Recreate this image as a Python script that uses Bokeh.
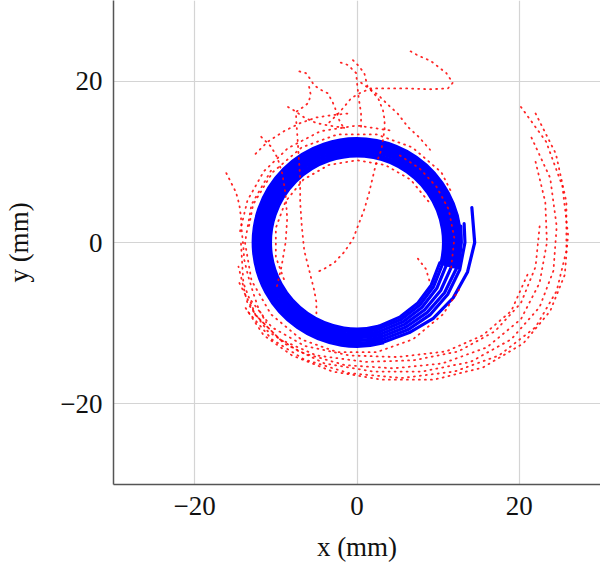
import numpy as np
from bokeh.plotting import figure
from bokeh.models import Range1d, FixedTicker
from bokeh.embed import file_html
from bokeh.resources import INLINE

# ---------------- data (mm) ----------------
# blue: 7 measured loops. Each loop runs anticlockwise at an almost constant
# radius about the origin, then spirals outward into a spike on the right.
blue_loop_radius = [12.75, 12.4, 12.05, 11.7, 11.35, 11.0, 10.7]
blue_loop_start_deg = [-15, -15, -15, -15, -15, -15, -15]
blue_loop_end_deg = [285, 285, 285, 285, 285, 285, 285]

blue_tail_a_x = [3.30, 6.45, 9.40, 11.86, 13.62, 14.5, 14.15]
blue_tail_a_y = [-12.32, -11.17, -9.40, -6.85, -3.65, 0.0, 4.33]
blue_tail_b_x = [3.21, 6.25, 8.98, 11.17, 12.65, 13.3, 13.2]
blue_tail_b_y = [-11.98, -10.83, -8.98, -6.45, -3.39, 0.0, 2.33]
blue_tail_c_x = [3.12, 6.05, 8.66, 10.78, 12.22, 12.85, 12.79]
blue_tail_c_y = [-11.64, -10.48, -8.66, -6.23, -3.28, 0.0, 2.03]
blue_tail_d_x = [3.03, 5.86, 8.34, 10.31, 11.59, 12.1, 12.13]
blue_tail_d_y = [-11.30, -10.15, -8.34, -5.95, -3.11, 0.0, 1.28]
blue_tail_e_x = [2.94, 5.68, 8.02, 9.83, 10.96, 11.35, 11.34]
blue_tail_e_y = [-10.96, -9.83, -8.02, -5.68, -2.94, 0.0, 0.40]
blue_tail_f_x = [2.85, 5.49, 7.74, 9.44, 10.48, 10.75]
blue_tail_f_y = [-10.63, -9.51, -7.74, -5.45, -2.81, -1.13]
blue_tail_g_x = [2.77, 5.33, 7.50, 9.14, 10.19]
blue_tail_g_y = [-10.34, -9.22, -7.50, -5.28, -2.54]

# red: dotted reference trajectories
red_outer_1_x = [20.2, 23.3, 25.3, 26.0, 25.6, 23.8, 20.5, 15.5, 9.5, 3.0, -3.0, -8.0, -11.5, -13.8]
red_outer_1_y = [16.8, 12.5, 7.0, 1.0, -4.0, -8.5, -12.5, -15.5, -17.0, -17.0, -16.0, -14.0, -11.5, -8.0]
red_outer_2_x = [22.0, 24.5, 25.8, 25.8, 24.6, 22.0, 17.5, 12.0, 5.5, -1.0, -6.5, -10.5, -13.5]
red_outer_2_y = [16.0, 11.0, 5.0, -1.0, -6.0, -10.5, -14.0, -16.0, -16.8, -16.2, -14.5, -12.0, -8.5]
red_outer_3_x = [21.5, 23.8, 24.6, 24.2, 22.5, 19.0, 14.0, 8.0, 2.0, -4.0, -9.0, -12.5, -14.5]
red_outer_3_y = [13.0, 8.0, 2.0, -3.5, -8.0, -12.0, -14.8, -16.0, -16.0, -15.0, -12.5, -9.0, -5.0]
red_outer_4_x = [22.0, 23.2, 23.4, 22.5, 20.2, 16.0, 10.5, 4.5, -1.5, -7.0, -11.0, -13.5, -14.6]
red_outer_4_y = [10.0, 5.0, 0.0, -5.0, -9.5, -13.0, -15.0, -15.6, -15.2, -13.6, -11.0, -7.5, -3.0]
red_outer_5_x = [22.5, 22.0, 20.2, 17.0, 12.5, 7.0, 1.0, -5.0, -9.5, -12.5, -14.0, -14.3]
red_outer_5_y = [2.0, -3.0, -7.5, -11.0, -13.5, -14.6, -14.8, -14.0, -12.0, -9.0, -5.0, 0.0]
red_outer_6_x = [21.0, 19.0, 15.5, 11.0, 5.0, -1.0, -6.5, -10.5, -13.2]
red_outer_6_y = [-4.0, -8.5, -11.5, -13.5, -14.2, -14.0, -12.8, -10.5, -7.0]
red_hug_1_x = [-10.6, -13.0, -13.8, -13.0, -10.6, -6.9, -2.4, 2.4, 6.9, 10.6, 12.8]
red_hug_1_y = [8.9, 4.7, 0.0, -4.7, -8.9, -12.0, -13.6, -13.6, -12.0, -8.9, -5.5]
red_hug_2_x = [11.5, 10.4, 6.8, 2.4, -2.4, -6.8, -10.4, -12.8, -13.4]
red_hug_2_y = [6.5, 8.7, 11.8, 13.4, 13.4, 11.8, 8.7, 4.7, 1.5]
red_hug_3_x = [8.8, 6.6, 3.5, 0.0, -3.5, -6.6, -8.8, -10.0, -10.0, -8.8]
red_hug_3_y = [5.1, 7.8, 9.6, 10.2, 9.6, 7.8, 5.1, 1.8, -1.8, -5.1]
red_hug_4_x = [11.6, 12.0, 11.3, 9.8, 7.7, 5.1]
red_hug_4_y = [-3.1, 0.5, 4.1, 6.9, 9.2, 10.9]
red_hug_5_x = [4.0, 0.0, -4.5, -8.5, -11.5, -13.5, -14.5]
red_hug_5_y = [13.9, 14.5, 13.8, 11.7, 8.8, 5.2, 1.0]
red_top_1_x = [6.6, 7.5, 9.1, 11.0, 11.8, 11.2, 9.1, 6.3, 3.8, 1.7, 0.5, -0.7, -1.6, -2.3, -3.5]
red_top_1_y = [23.7, 23.2, 22.5, 21.0, 19.8, 19.1, 19.0, 19.1, 19.1, 19.1, 18.6, 17.9, 16.8, 16.0, 14.8]
red_top_2_x = [-0.5, 0.1, 0.9, 1.3, 2.6, 3.2, 3.4, 3.4, 3.0, 2.3, 1.5, 0.9, 0.1, -0.5, -1.6, -2.8, -4.1, -5.0]
red_top_2_y = [22.6, 22.0, 21.0, 19.3, 17.9, 16.4, 15.2, 14.0, 11.5, 9.6, 6.2, 4.1, 2.0, 0.4, -1.2, -2.5, -3.3, -3.7]
red_top_3_x = [-2.0, -1.1, -0.1, 0.0, 0.2, 0.5, 0.5]
red_top_3_y = [22.3, 22.0, 21.0, 19.8, 18.0, 16.0, 14.0]
red_top_4_x = [0.5, 2.6, 3.9, 5.0, 6.3, 7.6, 9.0]
red_top_4_y = [19.8, 18.3, 17.0, 16.0, 14.3, 13.1, 11.5]
red_up_1_x = [-7.1, -6.3, -5.7, -5.3, -4.4, -3.6, -3.0, -2.6, -2.2, -1.7]
red_up_1_y = [21.2, 21.0, 20.2, 19.5, 18.9, 18.5, 17.4, 16.4, 15.2, 14.3]
red_up_2_x = [-5.9, -5.7, -6.0, -6.6, -7.5, -7.5, -7.4, -7.2, -7.0, -7.0, -6.8, -6.5, -6.0, -5.7, -5.3, -5.0, -5.0]
red_up_2_y = [19.3, 18.3, 17.3, 16.8, 16.2, 15.2, 14.0, 11.0, 8.0, 5.0, 2.0, -1.0, -3.0, -4.2, -5.8, -7.4, -9.0]
red_up_3_x = [-11.8, -11.2, -10.6, -9.8, -9.2, -8.8, -8.6, -8.8, -9.3, -10.0]
red_up_3_y = [13.1, 12.5, 11.9, 10.5, 8.5, 6.0, 3.0, 0.0, -3.0, -6.0]
red_up_4_x = [-8.5, -7.8, -6.5, -5.0, -3.5, -1.5]
red_up_4_y = [16.8, 16.4, 15.5, 14.8, 14.5, 14.2]
red_up_5_x = [-12.5, -11.0, -9.0, -7.0, -5.0, -3.0, -1.0]
red_up_5_y = [11.0, 12.5, 13.8, 14.8, 15.5, 15.8, 16.0]
red_left_x = [-16.1, -15.5, -14.9, -14.5, -14.3, -14.2, -14.0, -13.9, -13.4, -12.8, -12.1, -11.2]
red_left_y = [8.6, 7.4, 6.2, 4.7, 3.2, 1.4, -0.5, -2.1, -4.2, -6.2, -8.3, -9.9]
red_inner_x = [7.5, 8.5, 9.0]
red_inner_y = [-2.0, -3.3, -5.0]

tick_values = [-20, 0, 20]
tick_labels = {-20: "\u221220", 0: "0", 20: "20"}
x_title = "x (mm)"
y_title = "y (mm)"

blue_tail_xs = [blue_tail_a_x, blue_tail_b_x, blue_tail_c_x, blue_tail_d_x, blue_tail_e_x, blue_tail_f_x, blue_tail_g_x]
blue_tail_ys = [blue_tail_a_y, blue_tail_b_y, blue_tail_c_y, blue_tail_d_y, blue_tail_e_y, blue_tail_f_y, blue_tail_g_y]
red_xs = [red_outer_1_x, red_outer_2_x, red_outer_3_x, red_outer_4_x, red_outer_5_x, red_outer_6_x,
          red_hug_1_x, red_hug_2_x, red_hug_3_x, red_hug_4_x, red_hug_5_x,
          red_top_1_x, red_top_2_x, red_top_3_x, red_top_4_x,
          red_up_1_x, red_up_2_x, red_up_3_x, red_up_4_x, red_up_5_x, red_left_x, red_inner_x]
red_ys = [red_outer_1_y, red_outer_2_y, red_outer_3_y, red_outer_4_y, red_outer_5_y, red_outer_6_y,
          red_hug_1_y, red_hug_2_y, red_hug_3_y, red_hug_4_y, red_hug_5_y,
          red_top_1_y, red_top_2_y, red_top_3_y, red_top_4_y,
          red_up_1_y, red_up_2_y, red_up_3_y, red_up_4_y, red_up_5_y, red_left_y, red_inner_y]

# ---------------- figure ----------------
p = figure(width=600, height=566, output_backend="svg", toolbar_location=None,
           x_range=Range1d(-30, 30), y_range=Range1d(-30, 30),
           min_border_left=113, min_border_right=0, min_border_top=0, min_border_bottom=82)
p.outline_line_color = None
p.background_fill_color = "white"
p.border_fill_color = "white"

for ax in (p.xaxis, p.yaxis):
    ax.ticker = FixedTicker(ticks=tick_values)
    ax.major_label_overrides = tick_labels
    ax.major_tick_in = 0
    ax.major_tick_out = 0
    ax.minor_tick_in = 0
    ax.minor_tick_out = 0
    ax.axis_line_color = "#555555"
    ax.axis_line_width = 1.5
    ax.major_label_text_font = "Liberation Serif"
    ax.major_label_text_font_size = "27px"
    ax.major_label_text_color = "#111111"
    ax.axis_label_text_font = "Liberation Serif"
    ax.axis_label_text_font_size = "27px"
    ax.axis_label_text_font_style = "normal"
    ax.axis_label_text_color = "#111111"

p.xaxis.axis_label = x_title
p.yaxis.axis_label = y_title
p.xaxis.major_label_standoff = 12
p.yaxis.major_label_standoff = 11
p.xaxis.axis_label_standoff = 14
p.yaxis.axis_label_standoff = 23

p.grid.ticker = FixedTicker(ticks=tick_values)
p.grid.grid_line_color = "#d4d4d4"
p.grid.grid_line_width = 1.2

n_loops = len(blue_loop_radius)
p.arc(x=[0.0] * n_loops, y=[0.0] * n_loops, radius=blue_loop_radius,
      start_angle=np.deg2rad(blue_loop_start_deg), end_angle=np.deg2rad(blue_loop_end_deg),
      line_color="#0000ff", line_width=3.8)
p.multi_line(blue_tail_xs, blue_tail_ys, line_color="#0000ff", line_width=3.2,
             line_join="round", line_cap="round")
p.multi_line(red_xs, red_ys, line_color="#ff0000", line_width=1.8, line_dash="1 5",
             line_cap="round", line_alpha=0.85)

open("out.html", "w").write(file_html(p, INLINE))
